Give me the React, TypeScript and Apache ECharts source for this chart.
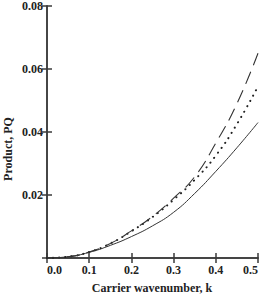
import React, { useEffect, useRef } from "react";
import * as echarts from "echarts";

const kValues = [0, 0.05, 0.1, 0.15, 0.2, 0.25, 0.3, 0.35, 0.4, 0.45, 0.5];
const solidPQ = [0, 0.0004, 0.0018, 0.004, 0.0068, 0.0102, 0.0145, 0.0205, 0.0275, 0.035, 0.043];
const dottedPQ = [0, 0.0004, 0.0019, 0.0046, 0.0085, 0.013, 0.0185, 0.0248, 0.0325, 0.0425, 0.0545];
const dashedPQ = [0, 0.0004, 0.0019, 0.0046, 0.0086, 0.0132, 0.019, 0.0258, 0.0365, 0.049, 0.065];
const xTicks = [0, 0.1, 0.2, 0.3, 0.4, 0.5];
const yTicks = [0, 0.02, 0.04, 0.06, 0.08];

const FONT = "'Liberation Serif', 'Times New Roman', serif";
const AX = "#3a3a3a";

export default function App() {
  const ref = useRef<HTMLDivElement>(null);
  useEffect(() => {
    if (!ref.current) return;
    const chart = echarts.init(ref.current, undefined, { renderer: "svg" });
    const pair = (ys: number[]) => kValues.map((k, i) => [k, ys[i]]);
    const axisCommon = {
      axisLine: { show: true, lineStyle: { color: AX, width: 1.5 } },
      axisTick: { show: true, inside: true, length: 5, lineStyle: { color: AX, width: 1.5 } },
      splitLine: { show: false },
    };
    chart.setOption({
      animation: false,
      backgroundColor: "#fff",
      grid: { left: 47, right: 5, top: 6, bottom: 39, containLabel: false },
      xAxis: [
        {
          type: "value",
          min: xTicks[0],
          max: xTicks[xTicks.length - 1],
          interval: 0.1,
          position: "bottom",
          ...axisCommon,
          axisLabel: {
            margin: 6,
            color: "#222",
            fontFamily: FONT,
            fontWeight: "bold",
            fontSize: 12,
            formatter: (v: number) => v.toFixed(1),
            alignMinLabel: "left",
            alignMaxLabel: "right",
          },
        },
        {
          type: "value",
          min: xTicks[0],
          max: xTicks[xTicks.length - 1],
          interval: 0.1,
          position: "top",
          ...axisCommon,
          axisLabel: { show: false },
        },
      ],
      yAxis: [
        {
          type: "value",
          min: yTicks[0],
          max: yTicks[yTicks.length - 1],
          interval: 0.02,
          position: "left",
          ...axisCommon,
          axisLabel: {
            margin: 4,
            color: "#222",
            fontFamily: FONT,
            fontWeight: "bold",
            fontSize: 12,
            showMinLabel: false,
            formatter: (v: number) => v.toFixed(2),
          },
        },
        {
          type: "value",
          min: yTicks[0],
          max: yTicks[yTicks.length - 1],
          interval: 0.02,
          position: "right",
          ...axisCommon,
          axisLabel: { show: false },
        },
      ],
      graphic: [
        {
          type: "text",
          x: 8,
          y: 149,
          rotation: Math.PI / 2,
          style: {
            text: "Product, PQ",
            align: "center",
            verticalAlign: "middle",
            fill: "#222",
            font: `bold 12px ${FONT}`,
          },
        },
        {
          type: "text",
          x: 152,
          y: 288,
          style: {
            text: "Carrier wavenumber, k",
            align: "center",
            verticalAlign: "middle",
            fill: "#222",
            font: `bold 12px ${FONT}`,
          },
        },
      ],
      series: [
        {
          type: "line",
          name: "solid",
          data: pair(solidPQ),
          smooth: true,
          showSymbol: false,
          lineStyle: { color: "#333", width: 1 },
        },
        {
          type: "line",
          name: "dotted",
          data: pair(dottedPQ),
          smooth: true,
          showSymbol: false,
          lineStyle: { color: "#222", width: 2, type: [0.1, 6], cap: "round" },
        },
        {
          type: "line",
          name: "dashed",
          data: pair(dashedPQ),
          smooth: true,
          showSymbol: false,
          lineStyle: { color: "#333", width: 1.1, type: [13, 7] },
        },
      ],
    });
    return () => chart.dispose();
  }, []);
  return <div ref={ref} style={{ width: 263, height: 297, position: "absolute", left: 0, top: 0 }} />;
}
